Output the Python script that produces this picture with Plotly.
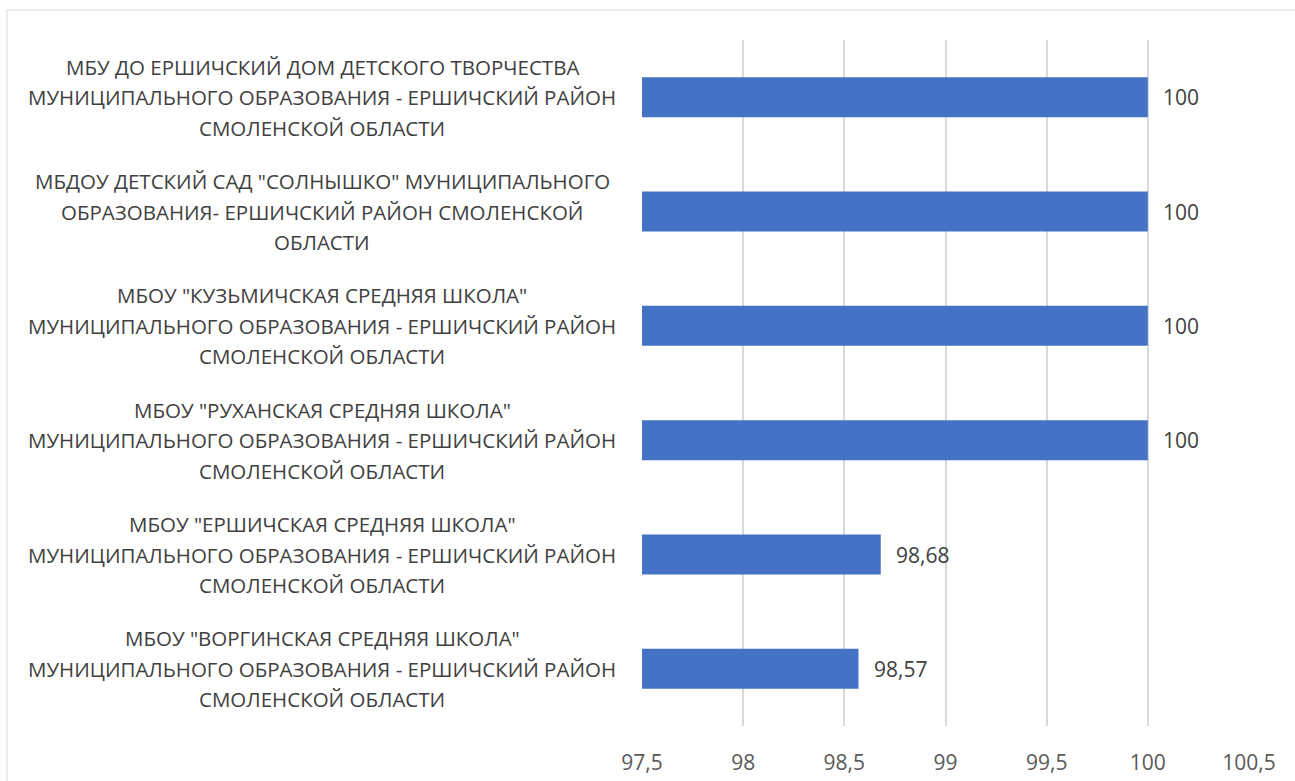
import plotly.graph_objects as go

categories = [
    "МБУ ДО ЕРШИЧСКИЙ ДОМ ДЕТСКОГО ТВОРЧЕСТВА\nМУНИЦИПАЛЬНОГО ОБРАЗОВАНИЯ - ЕРШИЧСКИЙ РАЙОН\nСМОЛЕНСКОЙ ОБЛАСТИ",
    "МБДОУ ДЕТСКИЙ САД \"СОЛНЫШКО\" МУНИЦИПАЛЬНОГО\nОБРАЗОВАНИЯ- ЕРШИЧСКИЙ РАЙОН СМОЛЕНСКОЙ\nОБЛАСТИ",
    "МБОУ \"КУЗЬМИЧСКАЯ СРЕДНЯЯ ШКОЛА\"\nМУНИЦИПАЛЬНОГО ОБРАЗОВАНИЯ - ЕРШИЧСКИЙ РАЙОН\nСМОЛЕНСКОЙ ОБЛАСТИ",
    "МБОУ \"РУХАНСКАЯ СРЕДНЯЯ ШКОЛА\"\nМУНИЦИПАЛЬНОГО ОБРАЗОВАНИЯ - ЕРШИЧСКИЙ РАЙОН\nСМОЛЕНСКОЙ ОБЛАСТИ",
    "МБОУ \"ЕРШИЧСКАЯ СРЕДНЯЯ ШКОЛА\"\nМУНИЦИПАЛЬНОГО ОБРАЗОВАНИЯ - ЕРШИЧСКИЙ РАЙОН\nСМОЛЕНСКОЙ ОБЛАСТИ",
    "МБОУ \"ВОРГИНСКАЯ СРЕДНЯЯ ШКОЛА\"\nМУНИЦИПАЛЬНОГО ОБРАЗОВАНИЯ - ЕРШИЧСКИЙ РАЙОН\nСМОЛЕНСКОЙ ОБЛАСТИ",
]
values = [100, 100, 100, 100, 98.68, 98.57]
value_labels = ["100", "100", "100", "100", "98,68", "98,57"]
x_ticks = [97.5, 98, 98.5, 99, 99.5, 100, 100.5]
x_tick_labels = ["97,5", "98", "98,5", "99", "99,5", "100", "100,5"]

FONT = "Open Sans"
W, H = 1295, 781
ML, MR, MT, MB = 642, 46, 40, 55
pw = W - ML - MR
ph = H - MT - MB

ids = list(range(len(categories)))

fig = go.Figure()
fig.add_trace(go.Bar(
    y=ids, x=values, base=0, orientation="h",
    marker=dict(color="#4472C4", line=dict(width=0)),
    hoverinfo="skip",
))

annotations = []
for i, (cat, v, lab) in enumerate(zip(categories, values, value_labels)):
    lines = cat.split("\n")
    n = len(lines)
    for j, line in enumerate(lines):
        annotations.append(dict(
            x=(322 - ML) / pw, xref="paper", y=i, yref="y",
            text=line, showarrow=False, xanchor="center", yanchor="middle",
            yshift=-(j - (n - 1) / 2) * 30.5,
            font=dict(family=FONT, size=20.5, color="#404040"),
        ))
    annotations.append(dict(
        x=v, xref="x", y=i, yref="y", text=lab, showarrow=False,
        xanchor="left", yanchor="middle", xshift=13,
        font=dict(family=FONT, size=21, color="#404040"),
    ))

fig.update_layout(
    width=W, height=H,
    margin=dict(l=ML, r=MR, t=MT, b=MB, autoexpand=False),
    paper_bgcolor="white", plot_bgcolor="white",
    bargap=0.65,
    showlegend=False,
    xaxis=dict(
        range=[97.5, 100.5], tickvals=x_ticks, ticktext=x_tick_labels,
        showgrid=True, gridcolor="#D9D9D9", gridwidth=2,
        zeroline=False, showline=False, ticks="",
        ticklabelstandoff=22, automargin=False,
        tickfont=dict(family=FONT, size=21, color="#595959"),
        fixedrange=True,
    ),
    yaxis=dict(
        range=[len(categories) - 0.5, -0.5], showticklabels=False,
        showgrid=False, zeroline=False, showline=False, ticks="",
        automargin=False, fixedrange=True,
    ),
    annotations=annotations,
    shapes=[dict(
        type="rect", xref="paper", yref="paper",
        x0=(7 - ML) / pw, x1=(W + 10 - ML) / pw,
        y0=(H - MB - (H + 10)) / ph, y1=(H - MB - 10) / ph,
        line=dict(color="#D9D9D9", width=1), fillcolor="rgba(0,0,0,0)",
        layer="below",
    )],
)

fig.write_html(
    "out.html",
    config={"displayModeBar": False, "staticPlot": True},
    post_script="document.body.style.margin='0';document.body.style.overflow='hidden';",
)
